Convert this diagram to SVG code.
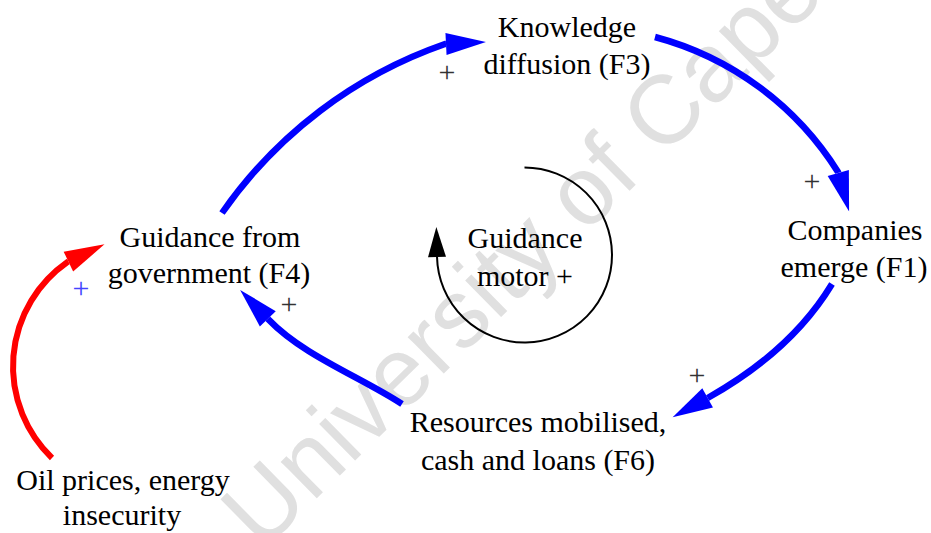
<svg xmlns="http://www.w3.org/2000/svg" width="931" height="533" viewBox="0 0 931 533">
<style>
text.t{font-family:'Liberation Serif',serif;font-size:30px;fill:#000;text-anchor:middle}
text.pol{font-family:'Liberation Serif',serif;font-size:30px;fill:#333;text-anchor:middle}
.blue{fill:none;stroke:#0000ff;stroke-width:6.5;stroke-linejoin:round}
.red{fill:none;stroke:#ff0000;stroke-width:6;stroke-linejoin:round}
.loop{fill:none;stroke:#000;stroke-width:2}
text.wm{font-family:'Liberation Sans',sans-serif;font-size:97px;fill:#e0e0e0}
</style>
<defs>
<marker id="ab" markerUnits="userSpaceOnUse" markerWidth="40" markerHeight="22" refX="0" refY="11" orient="auto" overflow="visible"><path d="M0,0 L40,11 L0,22 z" fill="#0000ff"/></marker>
<marker id="ar" markerUnits="userSpaceOnUse" markerWidth="40" markerHeight="22" refX="0" refY="11" orient="auto" overflow="visible"><path d="M0,0 L40,11 L0,22 z" fill="#ff0000"/></marker>
<marker id="ak" markerUnits="userSpaceOnUse" markerWidth="30" markerHeight="18" refX="0" refY="9" orient="auto" overflow="visible"><path d="M0,0 L30,9 L0,18 z" fill="#000"/></marker>
</defs>
<text class="wm" font-family="Liberation Sans, sans-serif" transform="translate(262,552) rotate(-44.5)">University of Cape</text>
<g id="connectors" font-family="Liberation Serif, serif">
<path class="blue" d="M222,213 A452.7,452.7 0 0 1 445,44 l1,-0.05" marker-end="url(#ab)"/>
<path class="blue" d="M655,37 A310.5,310.5 0 0 1 838,172 l0.27,0.96" marker-end="url(#ab)"/>
<path class="blue" d="M832,284 Q791.7,350.7 708.5,397.5 l-0.875,0.483" marker-end="url(#ab)"/>
<path class="blue" d="M402,404 C360.2,376.7 303,355.5 268.5,319.5 l-0.69,-0.72" marker-end="url(#ab)"/>
<path class="red" d="M52,458 A127.2,127.2 0 0 1 67.5,262 l0.9,-0.43" marker-end="url(#ar)"/>
<path class="loop" d="M524.5,167.5 A87.5,87.5 0 1 1 437.02,257" marker-end="url(#ak)"/>
<text class="pol" x="447" y="82">+</text>
<text class="pol" x="812" y="191">+</text>
<text class="pol" x="697" y="385">+</text>
<text class="pol" x="289" y="314">+</text>
<text class="pol" x="81" y="298" style="fill:#4444ff">+</text>
</g>
<g font-family="Liberation Serif, serif">
<g id="knowledge"><text class="t" x="567" y="37">Knowledge</text><text class="t" x="567" y="74">diffusion (F3)</text></g>
<g id="companies"><text class="t" x="855" y="240">Companies</text><text class="t" x="854" y="277">emerge (F1)</text></g>
<g id="guidance"><text class="t" x="210" y="247">Guidance from</text><text class="t" x="209" y="283">government (F4)</text></g>
<g id="motor"><text class="t" x="525" y="248">Guidance</text><text class="t" x="525" y="286">motor +</text></g>
<g id="resources"><text class="t" x="538" y="432">Resources mobilised,</text><text class="t" x="538" y="470">cash and loans (F6)</text></g>
<g id="oil"><text class="t" x="123" y="490">Oil prices, energy</text><text class="t" x="122" y="525">insecurity</text></g>
</g>
</svg>
